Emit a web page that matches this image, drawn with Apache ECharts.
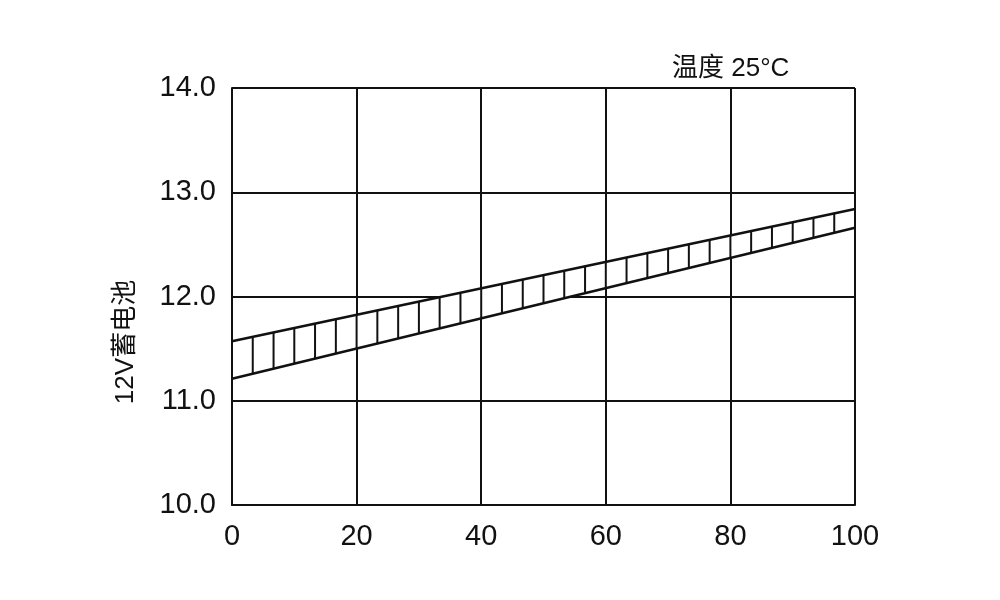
<!DOCTYPE html>
<html>
<head>
<meta charset="utf-8">
<script src="https://cdn.jsdelivr.net/npm/echarts@6/dist/echarts.min.js"></script>
<style>
html,body{margin:0;padding:0;background:#fff;}
#c{width:1000px;height:600px;}
</style>
</head>
<body>
<div id="c"></div>
<script>
// Band end points: [x, lower, upper]
var bandX = [0, 100];
var bandLower = [11.21, 12.66];
var bandUpper = [11.57, 12.84];
// Hatch line positions along x
var hatchX = [0, 3.33, 6.67, 10, 13.33, 16.67, 20, 23.33, 26.67, 30, 33.33, 36.67, 40, 43.33, 46.67, 50,
  53.33, 56.67, 60, 63.33, 66.67, 70, 73.33, 76.67, 80, 83.33, 86.67, 90, 93.33, 96.67, 100];
var xTicks = ['0', '20', '40', '60', '80', '100'];
var yTicks = ['10.0', '11.0', '12.0', '13.0', '14.0'];
var titleText = '温度 25°C';
var yName = '12V蓄电池';

var font = "'Liberation Sans', Arial, 'Noto Sans CJK SC', sans-serif";
var chart = echarts.init(document.getElementById('c'));

function bandAt(x, arr) {
  var t = (x - bandX[0]) / (bandX[1] - bandX[0]);
  return arr[0] + (arr[1] - arr[0]) * t;
}

var option = {
  backgroundColor: '#fff',
  animation: false,
  grid: {left: 232, right: 145, top: 88, bottom: 95},
  title: {
    text: titleText,
    left: 667, top: 51,
    textStyle: {fontFamily: "'Liberation Sans','Noto Sans CJK SC',sans-serif", fontSize: 26, fontWeight: 'normal', color: '#111'}
  },
  graphic: [{
    type: 'text',
    x: 126, y: 342,
    rotation: Math.PI / 2,
    style: {
      text: yName,
      fontFamily: "'Liberation Sans','Noto Sans CJK SC',sans-serif",
      fontSize: 26,
      fill: '#111',
      align: 'center',
      verticalAlign: 'middle'
    }
  }],
  xAxis: {
    type: 'value', min: 0, max: 100, interval: 20,
    axisLine: {show: true, lineStyle: {color: '#111', width: 2}},
    axisTick: {show: false},
    splitLine: {show: true, lineStyle: {color: '#111', width: 2}},
    axisLabel: {
      margin: 17, fontSize: 29, color: '#111', fontFamily: font,
      formatter: function (v) { return xTicks[Math.round(v / 20)]; }
    }
  },
  yAxis: {
    type: 'value', min: 10, max: 14, interval: 1,
    axisLine: {show: true, lineStyle: {color: '#111', width: 2}},
    axisTick: {show: false},
    splitLine: {show: true, lineStyle: {color: '#111', width: 2}},
    axisLabel: {
      margin: 16, fontSize: 29, color: '#111', fontFamily: font,
      padding: [6, 0, 0, 0],
      formatter: function (v) { return yTicks[Math.round(v - 10)]; }
    }
  },
  series: [
    {
      type: 'custom',
      clip: false,
      z: 3,
      data: [[bandX[0], bandLower[0], bandUpper[0], bandX[1], bandLower[1], bandUpper[1]]],
      renderItem: function (params, api) {
        var a = api.coord([api.value(0), api.value(1)]);
        var b = api.coord([api.value(3), api.value(4)]);
        var c = api.coord([api.value(3), api.value(5)]);
        var d = api.coord([api.value(0), api.value(2)]);
        return {
          type: 'group',
          children: [
            {type: 'polygon', shape: {points: [a, b, c, d]}, style: {fill: '#fff', stroke: null}},
            {type: 'line', shape: {x1: a[0], y1: a[1], x2: b[0], y2: b[1]}, style: {stroke: '#111', lineWidth: 2.6}},
            {type: 'line', shape: {x1: d[0], y1: d[1], x2: c[0], y2: c[1]}, style: {stroke: '#111', lineWidth: 2.6}}
          ]
        };
      }
    },
    {
      type: 'custom',
      clip: false,
      z: 4,
      data: hatchX.map(function (x) { return [x]; }),
      renderItem: function (params, api) {
        var x = api.value(0);
        var p1 = api.coord([x, bandAt(x, bandLower)]);
        var p2 = api.coord([x, bandAt(x, bandUpper)]);
        return {
          type: 'line',
          shape: {x1: p1[0], y1: p1[1], x2: p2[0], y2: p2[1]},
          style: {stroke: '#111', lineWidth: 2}
        };
      }
    }
  ]
};
chart.setOption(option);
</script>
</body>
</html>
